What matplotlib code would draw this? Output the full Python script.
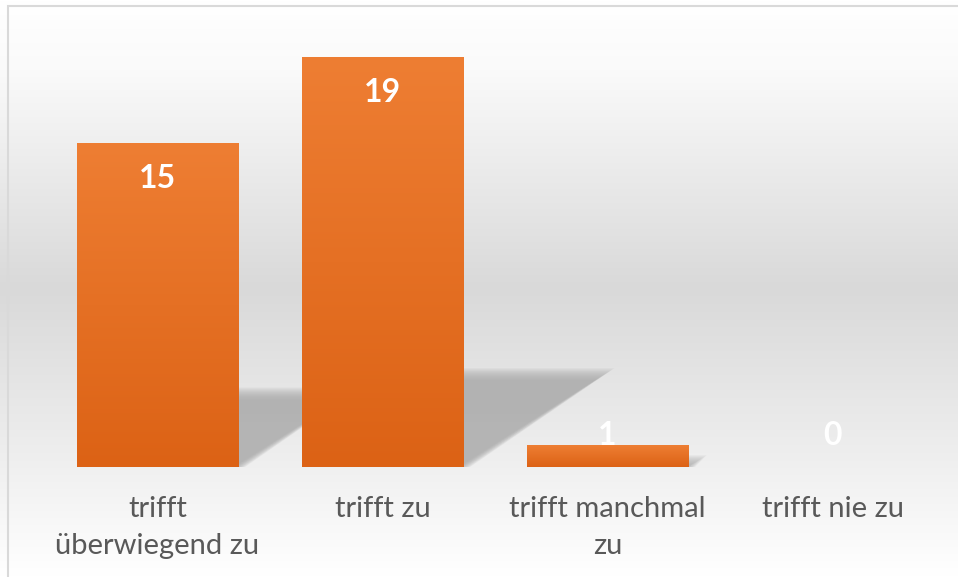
import numpy as np
import matplotlib.pyplot as plt
from matplotlib.colors import LinearSegmentedColormap
from matplotlib.patches import Rectangle, Polygon

categories = ["trifft\nüberwiegend zu", "trifft zu", "trifft manchmal\nzu", "trifft nie zu"]
values = [15, 19, 1, 0]

W, H = 958, 577
fig = plt.figure(figsize=(W / 100, H / 100), dpi=100)

# background with vertical gradient and thin border
bg = fig.add_axes([0, 0, 1, 1], zorder=-1)
bg_cmap = LinearSegmentedColormap.from_list(
    "bg", [(0, "#ffffff"), (0.12, "#fafafa"), (0.5, "#d9d9d9"), (0.8, "#efefef"), (1, "#ffffff")])
grad = np.linspace(0, 1, 256).reshape(-1, 1)
bg.imshow(grad, cmap=bg_cmap, aspect="auto", extent=[0, 1, 0, 1], origin="upper")
bg.add_patch(Rectangle((8 / W, -0.1), 1.2, 1 - 6 / H + 0.1, fill=False,
                       edgecolor="#d9d9d9", linewidth=1.5))
bg.set_xlim(0, 1)
bg.set_ylim(0, 1)
bg.axis("off")

ax = fig.add_axes([45 / W, (H - 467) / H, 900 / W, 432 / H])
ax.set_facecolor("none")
x = np.arange(len(categories))
width = 0.716

# soft perspective shadows behind bars (layered to fake a blur)
px_x = 1 / 225.0   # one pixel in data units along x
px_y = 20 / 432.0  # one pixel in data units along y
for xi, v in zip(x, values):
    if v <= 0:
        continue
    sh = 0.224 * v
    dx = 0.0328 * v
    x0, x1 = xi - width / 2, xi + width / 2
    for e in np.linspace(7, -5, 13):
        poly = Polygon([(x0, 0), (x1 + e * px_x, 0),
                        (x1 + dx + e * 1.6 * px_x, sh + e * px_y),
                        (x0 + dx, sh + e * px_y)],
                       closed=True, facecolor="#a8a8a8", edgecolor="none", alpha=0.11, zorder=1)
        ax.add_patch(poly)

bar_cmap = LinearSegmentedColormap.from_list("bar", ["#dc6215", "#ee7e33"])
bars = ax.bar(x, values, width=width, color="#e67025", zorder=2)
for b in bars:
    if b.get_height() <= 0:
        continue
    im = ax.imshow(grad, cmap=bar_cmap, aspect="auto", origin="lower",
                   extent=[b.get_x(), b.get_x() + b.get_width(), 0, b.get_height()], zorder=3)
    im.set_clip_path(b)

for xi, v in zip(x, values):
    ax.text(xi, max(v - 1.65, 1.45), str(v), ha="center", va="center",
            color="white", fontsize=23, fontweight="bold", family="Lato", zorder=4)

ax.set_xlim(-0.5, len(categories) - 0.5)
ax.set_ylim(0, 20)
ax.set_xticks(x)
ax.set_xticklabels(categories, fontsize=21, color="#595959", family="Lato", linespacing=1.5)
ax.tick_params(axis="x", length=0, pad=21)
ax.set_yticks([])
for s in ax.spines.values():
    s.set_visible(False)

fig.savefig("out.png", dpi=100)
